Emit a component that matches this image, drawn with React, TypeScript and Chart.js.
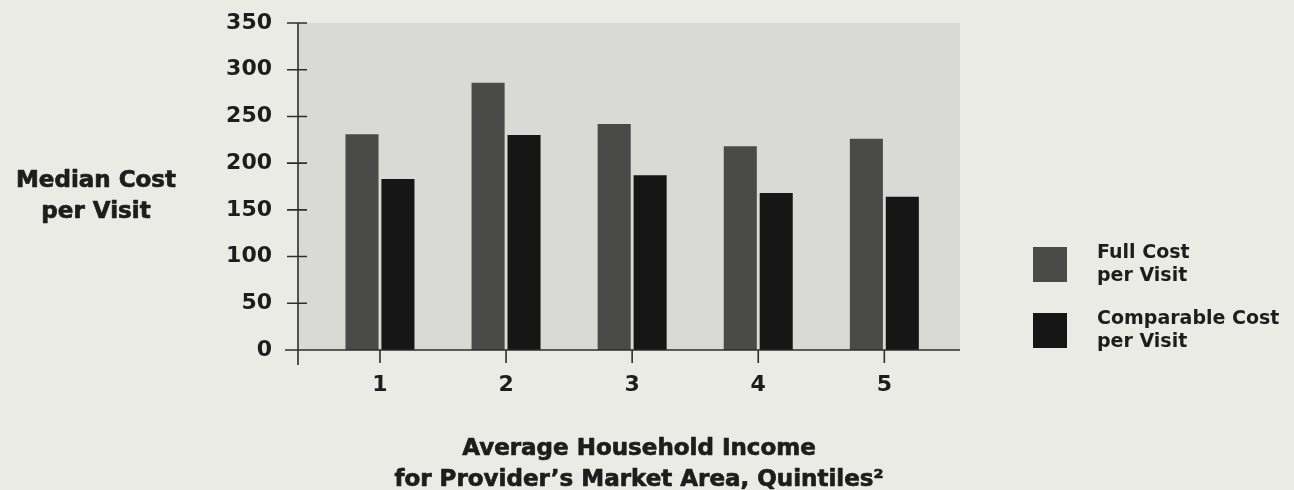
import React, { useEffect, useRef } from "react";
import { Chart, registerables } from "chart.js";

Chart.register(...registerables);

// Quintiles of average household income
const quintiles = ["1", "2", "3", "4", "5"];
// Median cost per visit, by quintile
const fullCost = [231, 286, 242, 218, 226];
const comparableCost = [183, 230, 187, 168, 164];
// Value axis ticks
const yTicks = [0, 50, 100, 150, 200, 250, 300, 350];

const yTitle = ["Median Cost", "per Visit"];
const xTitle = ["Average Household Income", "for Provider\u2019s Market Area, Quintiles\u00B2"];
const seriesNames = [
  ["Full Cost", "per Visit"],
  ["Comparable Cost", "per Visit"],
];

const PAGE_BG = "#ebebe6";
const PLOT_BG = "#d9d9d5";
const INK = "#1d1d1d";
const AXIS = "#2e2e2e";
const FULL_COLOR = "#4a4a48";
const COMP_COLOR = "#161616";
const FONT = "'DejaVu Sans', 'Liberation Sans', sans-serif";

// Heavy title text: fill plus a thin stroke of the same ink
function heavyText(ctx: CanvasRenderingContext2D, text: string, x: number, y: number) {
  ctx.fillText(text, x, y);
  ctx.strokeText(text, x, y);
}

const decorations = {
  id: "decorations",
  beforeDraw(chart: any) {
    const { ctx, chartArea: a } = chart;
    ctx.save();
    ctx.fillStyle = PAGE_BG;
    ctx.fillRect(0, 0, chart.width, chart.height);
    ctx.fillStyle = PLOT_BG;
    ctx.fillRect(a.left, a.top, a.right - a.left, a.bottom - a.top);
    ctx.restore();
  },
  afterDatasetsDraw(chart: any) {
    const { ctx, chartArea: a, scales } = chart;
    const xs = scales.x;
    const ys = scales.y;
    ctx.save();
    ctx.strokeStyle = AXIS;
    ctx.lineWidth = 1.6;
    ctx.beginPath();
    // value axis, running a little below the baseline
    ctx.moveTo(a.left, a.top);
    ctx.lineTo(a.left, a.bottom + 15);
    // category axis, running a little left of the value axis
    ctx.moveTo(a.left - 13, a.bottom);
    ctx.lineTo(a.right, a.bottom);
    // value ticks crossing the axis
    yTicks.forEach((v) => {
      const y = ys.getPixelForValue(v);
      ctx.moveTo(a.left - 11, y);
      ctx.lineTo(a.left + 9, y);
    });
    // category ticks hanging below the axis
    quintiles.forEach((_, i) => {
      const x = xs.getPixelForValue(i + 1);
      ctx.moveTo(x, a.bottom);
      ctx.lineTo(x, a.bottom + 13);
    });
    ctx.stroke();
    ctx.restore();
  },
  afterDraw(chart: any) {
    const { ctx } = chart;
    ctx.save();
    ctx.fillStyle = INK;
    ctx.strokeStyle = INK;
    ctx.lineWidth = 0.7;
    ctx.lineJoin = "round";
    ctx.textBaseline = "alphabetic";

    // value axis title, horizontal, on the left
    ctx.font = `bold 23px ${FONT}`;
    ctx.textAlign = "center";
    heavyText(ctx, yTitle[0], 96, 187);
    heavyText(ctx, yTitle[1], 96, 218);

    // category axis title below the chart
    heavyText(ctx, xTitle[0], 639, 455);
    heavyText(ctx, xTitle[1], 639, 486);

    // legend
    const colors = [FULL_COLOR, COMP_COLOR];
    const tops = [247, 313];
    ctx.font = `bold 19px ${FONT}`;
    ctx.textAlign = "left";
    seriesNames.forEach((lines, i) => {
      ctx.fillStyle = colors[i];
      ctx.fillRect(1033, tops[i], 34, 35);
      ctx.fillStyle = INK;
      ctx.fillText(lines[0], 1097, tops[i] + 11);
      ctx.fillText(lines[1], 1097, tops[i] + 34);
    });
    ctx.restore();
  },
};

export default function App() {
  const canvasRef = useRef<HTMLCanvasElement | null>(null);

  useEffect(() => {
    if (!canvasRef.current) return;
    const tickFont = { family: FONT, size: 22, weight: "bold" as const };
    const chart = new Chart(canvasRef.current, {
      type: "bar",
      data: {
        datasets: [
          {
            label: "Full Cost per Visit",
            data: fullCost.map((v, i) => ({ x: i + 1, y: v })),
            backgroundColor: FULL_COLOR,
          },
          {
            label: "Comparable Cost per Visit",
            data: comparableCost.map((v, i) => ({ x: i + 1, y: v })),
            backgroundColor: COMP_COLOR,
          },
        ],
      },
      options: {
        animation: false,
        responsive: true,
        maintainAspectRatio: false,
        layout: { padding: { top: 23, right: 334, bottom: 0, left: 0 } },
        datasets: { bar: { categoryPercentage: 0.57, barPercentage: 0.92 } },
        plugins: {
          legend: { display: false },
          tooltip: { enabled: false },
        },
        scales: {
          x: {
            type: "linear",
            offset: false,
            min: 0.35,
            max: 5.6,
            grid: { display: false, drawTicks: false, offset: false },
            border: { display: false },
            afterBuildTicks: (scale: any) => {
              scale.ticks = quintiles.map((_, i) => ({ value: i + 1 }));
            },
            afterFit: (scale: any) => {
              scale.height = 140;
            },
            ticks: {
              autoSkip: false,
              maxRotation: 0,
              padding: 22,
              color: INK,
              font: tickFont,
              callback: (v: any) => quintiles[Number(v) - 1] ?? "",
            },
          },
          y: {
            min: 0,
            max: 350,
            grid: { display: false, drawTicks: false },
            border: { display: false },
            afterBuildTicks: (scale: any) => {
              scale.ticks = yTicks.map((v) => ({ value: v }));
            },
            afterFit: (scale: any) => {
              scale.width = 298;
              scale.paddingTop = 0;
              scale.paddingBottom = 0;
            },
            ticks: {
              padding: 26,
              color: INK,
              font: tickFont,
            },
          },
        },
      },
      plugins: [decorations],
    });
    return () => chart.destroy();
  }, []);

  return (
    <div
      style={{
        position: "fixed",
        left: 0,
        top: 0,
        width: 1294,
        height: 490,
        background: PAGE_BG,
      }}
    >
      <canvas ref={canvasRef} />
    </div>
  );
}
